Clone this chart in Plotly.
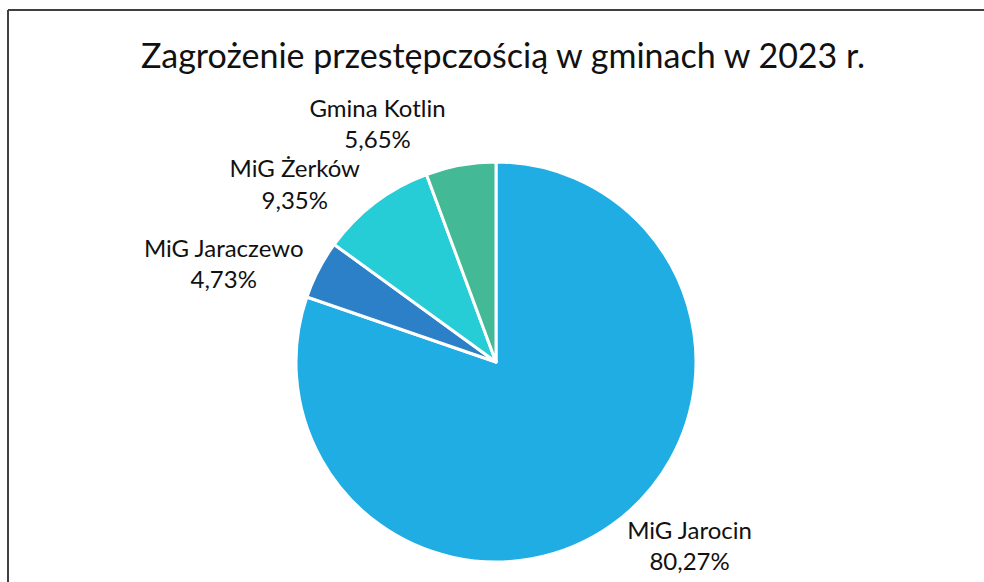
import plotly.graph_objects as go

W, H = 984, 582

title_text = "Zagrożenie przestępczością w gminach w 2023 r."
labels = ["MiG Jarocin", "MiG Jaraczewo", "MiG Żerków", "Gmina Kotlin"]
values = [80.27, 4.73, 9.35, 5.65]
colors = ["#1FADE3", "#2B80C7", "#27CDD6", "#43B995"]

# pie geometry in pixels (center, radius)
cx, cy, r = 496, 362, 200

fig = go.Figure(go.Pie(
    labels=labels,
    values=values,
    sort=False,
    direction="clockwise",
    rotation=0,
    marker=dict(colors=colors, line=dict(color="white", width=3)),
    textposition="outside",
    texttemplate="%{label}<br>%{value:.2f}%",
    textfont=dict(family="Lato", size=24, color="#111111"),
    hoverinfo="label+value",
    domain=dict(x=[(cx - r) / W, (cx + r) / W], y=[(H - cy - r) / H, (H - cy + r) / H]),
    showlegend=False,
    automargin=False,
))

fig.update_layout(
    width=W, height=H,
    margin=dict(l=0, r=0, t=0, b=0),
    paper_bgcolor="white",
    plot_bgcolor="white",
    separators=",.",
    title=dict(text=title_text, x=503 / W, xanchor="center", y=1 - 56 / H, yanchor="middle",
               font=dict(family="Lato", size=34, color="#111111")),
    shapes=[
        dict(type="line", xref="paper", yref="paper", x0=8 / W, x1=8 / W, y0=0, y1=1 - 10 / H,
             line=dict(color="#404040", width=2)),
        dict(type="line", xref="paper", yref="paper", x0=8 / W, x1=1, y0=1 - 10 / H, y1=1 - 10 / H,
             line=dict(color="#404040", width=2)),
    ],
)

post = (
    "document.body.style.margin='0';"
    "var s=document.createElement('style');"
    "s.textContent='path.textline{display:none !important;}';"
    "document.head.appendChild(s);"
)
fig.write_html("out.html", post_script=post, config={"displayModeBar": False})
